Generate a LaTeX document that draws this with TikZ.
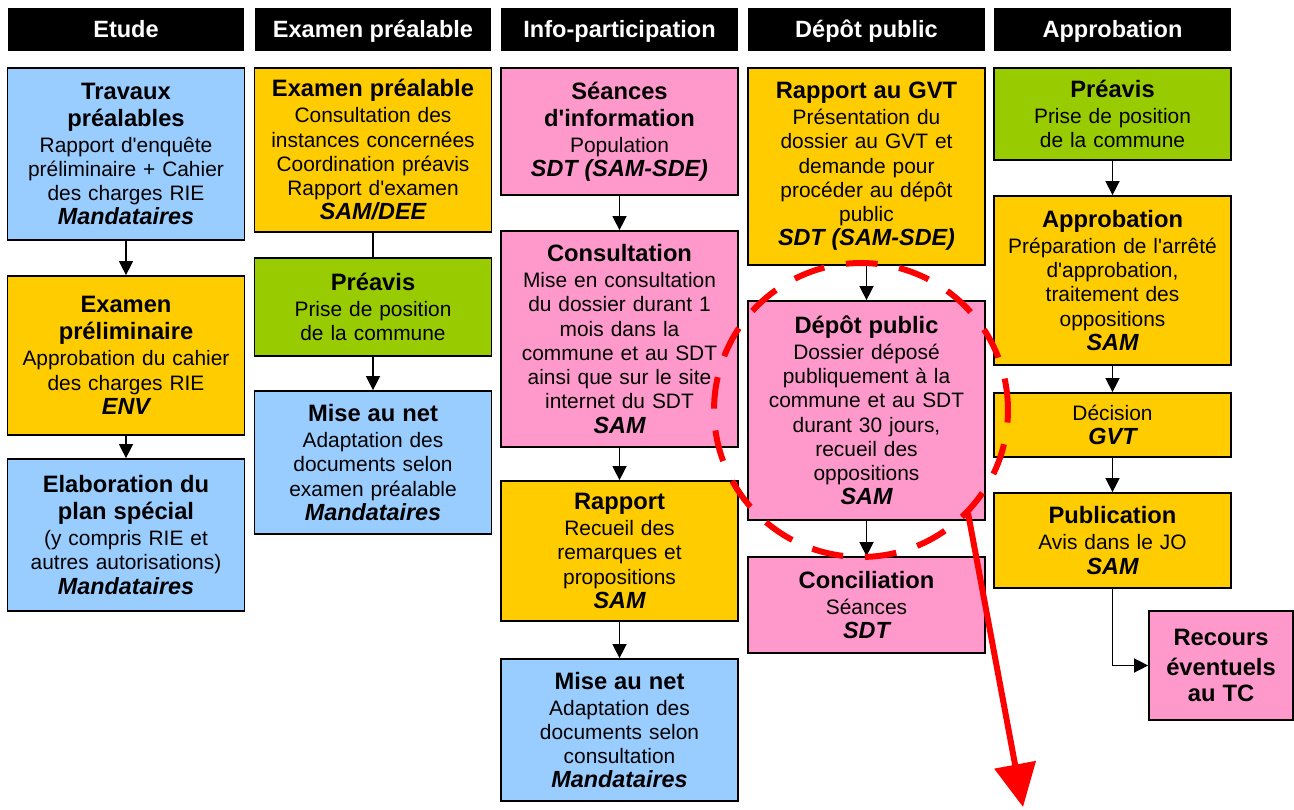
\documentclass[tikz,border=0pt]{standalone}
\usepackage{fontspec}
\setmainfont{Liberation Sans}[Ligatures=TeXOff]
\usepackage{xcolor}
\usetikzlibrary{arrows.meta, positioning}

\definecolor{ciel}{HTML}{99CCFF}
\definecolor{ocre}{HTML}{FFCC00}
\definecolor{herbe}{HTML}{99CC00}
\definecolor{rose}{HTML}{FF99CC}

\newcommand{\ttl}[1]{{\fontsize{13.5}{15.5}\selectfont\bfseries #1}}
\newcommand{\resp}[1]{{\fontsize{13.3}{14}\selectfont\bfseries\itshape #1}}

\tikzset{
  box/.style={draw, line width=1pt, minimum width=4.74cm, text width=4.6cm,
    align=center, inner sep=2pt, font=\fontsize{11.9}{13.8}\selectfont},
  head/.style={fill=black, minimum width=4.74cm, minimum height=0.86cm,
    text height=9.6pt, text depth=0pt,
    text=white, font=\fontsize{13.4}{15}\selectfont\bfseries},
  link/.style={-{Triangle[length=0.28cm,width=0.28cm]}, line width=0.8pt},
}

\begin{document}
\begin{tikzpicture}[x=0.02cm, y=-0.02cm]
  \useasboundingbox (0,0) rectangle (1294,810);

  % phases
  \node[head] (hEtude) at (126,29.5) {Etude};
  \node[head] (hExam) at (373,29.5) {Examen préalable};
  \node[head] (hInfo) at (619.5,29.5) {Info-participation};
  \node[head] (hDepot) at (866.5,29.5) {Dépôt public};
  \node[head] (hAppro) at (1112.5,29.5) {Approbation};

  % Etude
  \node[box, fill=ciel, minimum height=3.44cm] (travaux) at (126,154)
    {\ttl{Travaux\\[1.5pt]préalables}\\[1pt]Rapport d'enquête\\préliminaire + Cahier\\des charges RIE\\\resp{Mandataires}};
  \node[box, fill=ocre, minimum height=3.18cm] (prelim) at (126,355.5)
    {\ttl{Examen\\[1.5pt]préliminaire}\\[1pt]Approbation du cahier\\des charges RIE\\\resp{ENV}};
  \node[box, fill=ciel, minimum height=3.04cm] (elab) at (126,535)
    {\ttl{Elaboration du\\[1.5pt]plan spécial}\\[1pt](y compris RIE et\\autres autorisations)\\\resp{Mandataires}};

  % Examen prealable
  \node[box, fill=ocre, minimum height=3.28cm] (examen) at (373,150)
    {\ttl{Examen préalable}\\[1pt]Consultation des\\instances concernées\\Coordination préavis\\Rapport d'examen\\\resp{SAM/DEE}};
  \node[box, fill=herbe, minimum height=1.96cm] (preavis) at (373,307)
    {\ttl{Préavis}\\[1pt]Prise de position\\de la commune};
  \node[box, fill=ciel, minimum height=2.86cm] (netA) at (373,462.5)
    {\ttl{Mise au net}\\[1pt]Adaptation des\\documents selon\\examen préalable\\\resp{Mandataires}};

  % Info-participation
  \node[box, fill=rose, minimum height=2.54cm] (seances) at (619.5,131.5)
    {\ttl{Séances\\[1.5pt]d'information}\\[1pt]Population\\\resp{SDT (SAM-SDE)}};
  \node[box, fill=rose, minimum height=4.32cm] (consult) at (619.5,339)
    {\ttl{Consultation}\\[1pt]Mise en consultation\\du dossier durant 1\\mois dans la\\commune et au SDT\\ainsi que sur le site\\internet du SDT\\\resp{SAM}};
  \node[box, fill=ocre, minimum height=2.80cm] (rapport) at (619.5,551)
    {\ttl{Rapport}\\[1pt]Recueil des\\remarques et\\propositions\\\resp{SAM}};
  \node[box, fill=ciel, minimum height=2.84cm] (netB) at (619.5,730)
    {\ttl{Mise au net}\\[1pt]Adaptation des\\documents selon\\consultation\\\resp{Mandataires}};

  % Depot public
  \node[box, fill=ocre, minimum height=3.94cm] (gvt) at (866.5,166.5)
    {\ttl{Rapport au GVT}\\[1pt]Présentation du\\dossier au GVT et\\demande pour\\procéder au dépôt\\public\\\resp{SDT (SAM-SDE)}};
  \node[box, fill=rose, minimum height=4.38cm] (depot) at (866.5,410.5)
    {\ttl{Dépôt public}\\[1pt]Dossier déposé\\publiquement à la\\commune et au SDT\\durant 30 jours,\\recueil des\\oppositions\\\resp{SAM}};
  \node[box, fill=rose, minimum height=1.92cm] (concil) at (866.5,605)
    {\ttl{Conciliation}\\[1pt]Séances\\\resp{SDT}};

  % Approbation
  \node[box, fill=herbe, minimum height=1.84cm] (preavisB) at (1112.5,114)
    {\ttl{Préavis}\\[1pt]Prise de position\\de la commune};
  \node[box, fill=ocre, minimum height=3.38cm] (approb) at (1112.5,280.5)
    {\ttl{Approbation}\\[1pt]Préparation de l'arrêté\\d'approbation,\\traitement des\\oppositions\\\resp{SAM}};
  \node[box, fill=ocre, minimum height=1.28cm] (decision) at (1112.5,425)
    {Décision\\\resp{GVT}};
  \node[box, fill=ocre, minimum height=1.90cm] (publi) at (1112.5,540.5)
    {\ttl{Publication}\\[1pt]Avis dans le JO\\\resp{SAM}};
  \node[box, fill=rose, minimum width=2.88cm, text width=2.7cm, minimum height=2.18cm] (recours) at (1221,665.5)
    {\ttl{Recours\\[1.5pt]éventuels\\[1.5pt]au TC}};

  % liens
  \draw[link] (travaux) -- (prelim);
  \draw[link] (prelim) -- (elab);
  \draw[line width=0.8pt] (examen) -- (preavis);
  \draw[link] (preavis) -- (netA);
  \draw[link] (seances) -- (consult);
  \draw[link] (consult) -- (rapport);
  \draw[link] (rapport) -- (netB);
  \draw[link] (gvt) -- (depot);
  \draw[link] (depot) -- (concil);
  \draw[link] (preavisB) -- (approb);
  \draw[link] (approb) -- (decision);
  \draw[link] (decision) -- (publi);
  \draw[link] (publi.south) |- (recours.west);

  % mise en evidence
  \draw[red, line width=3.4pt, dash pattern=on 18pt off 12.5pt] (861,410) circle[radius=2.94cm];
  \coordinate (rDep) at (968,513);
  \coordinate (rFin) at (1023,807);
  \draw[red, line width=3.4pt, -{Triangle[length=0.86cm,width=0.82cm]}] (rDep) -- (rFin);
\end{tikzpicture}
\end{document}
